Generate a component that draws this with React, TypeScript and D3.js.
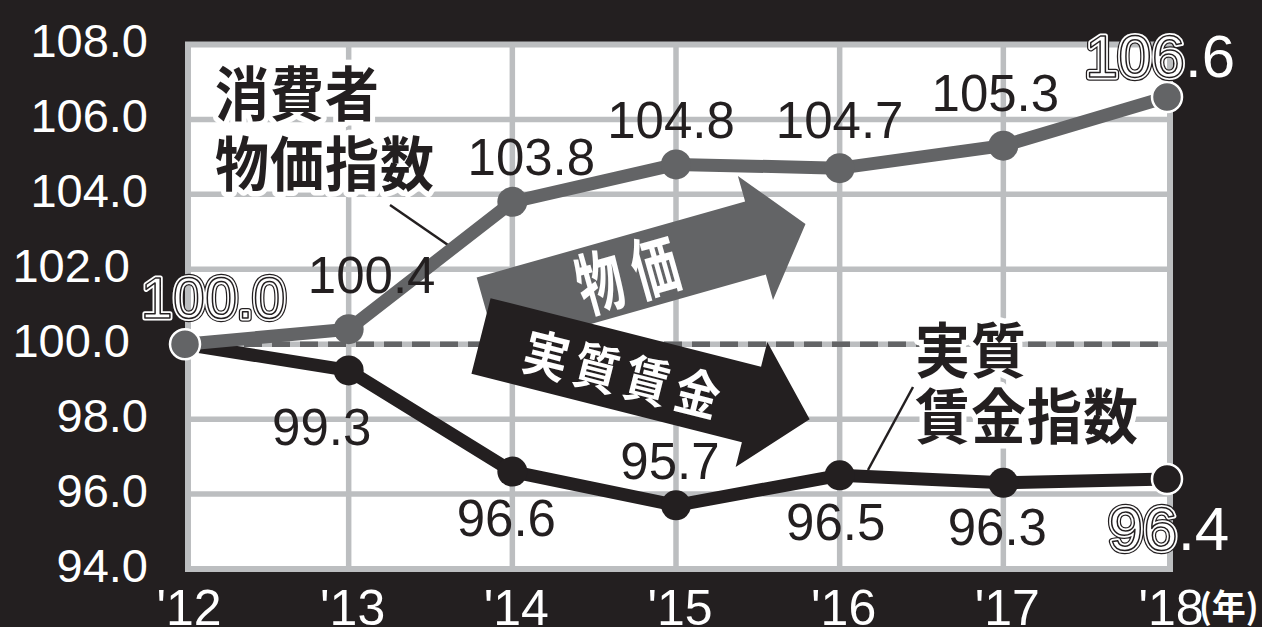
import React from 'react';
import * as d3 from 'd3';

// ---------- data ----------
const years = [2012, 2013, 2014, 2015, 2016, 2017, 2018];
const yearLabels = ["'12", "'13", "'14", "'15", "'16", "'17", "'18"];
const cpiValues = [100.0, 100.4, 103.8, 104.8, 104.7, 105.3, 106.6];
const wageValues = [100.0, 99.3, 96.6, 95.7, 96.5, 96.3, 96.4];
const yTicks = [94, 96, 98, 100, 102, 104, 106, 108];
const cpiTitle = ['消費者', '物価指数'];
const wageTitle = ['実質', '賃金指数'];
const cpiArrowText = '物価';
const wageArrowText = '実質賃金';
const unitLabel = '(年)';
const baseValue = 100;

// ---------- layout / style ----------
const W = 1262;
const H = 627;
const BG = '#231f20';
const GRAY = '#636466';
const GRID = '#bcbec0';
const NUM_FONT = '"Liberation Sans", Arial, Helvetica, sans-serif';
const JP_FONT = '"Noto Sans CJK JP", "Noto Sans CJK SC", sans-serif';

const x = d3.scaleLinear().domain([2012, 2018]).range([185, 1167]);
const y = d3.scaleLinear().domain([94, 108]).range([569, 44.5]);

// label offsets relative to the point [dx, dy]
const cpiLabelPos: number[][] = [[28, -26], [23, -36], [19, -27], [-5, -26], [0, -30], [-8, -35], [-7, -20]];
const wageLabelPos: (number[] | null)[] = [null, [-27, 75], [-6, 64], [-6, -26], [-4, 65], [-6, 62], [2, 71]];

const fmt = d3.format('.1f');

function OutlinedLabel({ px, py, text, size, split }: { px: number; py: number; text: string; size: number; split: number }) {
  const a = text.slice(0, split);
  const b = text.slice(split);
  const common = { x: px, y: py, textAnchor: 'middle' as const, fontSize: size, fontFamily: NUM_FONT };
  return (
    <g>
      <text {...common}>
        <tspan fill="none" stroke={BG} strokeWidth={7.5} strokeLinejoin="round">{a}</tspan>
        <tspan fill="none" stroke="none">{b}</tspan>
      </text>
      <text {...common}>
        <tspan fill="none" stroke="#fff" strokeWidth={5} strokeLinejoin="round">{a}</tspan>
        <tspan fill="none" stroke="none">{b}</tspan>
      </text>
      <text {...common}>
        <tspan fill="#fff" stroke={BG} strokeWidth={1.5} strokeLinejoin="round">{a}</tspan>
        <tspan fill="#fff" stroke="none">{b}</tspan>
      </text>
    </g>
  );
}

function Arrow({ sx, sy, angle, base, len, sw, hw, fill, text, textX, textY, fontSize, spacing, scaleY }: any) {
  const pts = [
    [0, -sw / 2], [base, -sw / 2], [base, -hw / 2], [len, 0], [base, hw / 2], [base, sw / 2], [0, sw / 2],
  ];
  return (
    <g transform={`translate(${sx},${sy}) rotate(${angle})`}>
      <polygon points={pts.map((p) => p.join(',')).join(' ')} fill={fill} />
      <text
        transform={`translate(${textX + spacing / 2},${textY}) scale(1,${scaleY})`}
        textAnchor="middle"
        fontSize={fontSize}
        fontFamily={JP_FONT}
        fontWeight={700}
        letterSpacing={spacing}
        fill="#fff"
      >
        {text}
      </text>
    </g>
  );
}

function SeriesTitle({ lines, px, baselines, size }: { lines: string[]; px: number; baselines: number[]; size: number }) {
  return (
    <g>
      {lines.map((l, i) => (
        <text
          key={i}
          transform={`translate(${px},${baselines[i]}) scale(1,1.1)`}
          fontSize={size}
          fontFamily={JP_FONT}
          fontWeight={700}
          letterSpacing={1}
          fill="#231f20"
          stroke="#fff"
          strokeWidth={10}
          strokeLinejoin="round"
          paintOrder="stroke"
        >
          {l}
        </text>
      ))}
    </g>
  );
}

export default function App() {
  const line = d3
    .line<number>()
    .x((_, i) => x(years[i]))
    .y((d) => y(d));

  const x0 = x(years[0]);
  const x1 = x(years[years.length - 1]);

  return (
    <svg
      width={W}
      height={H}
      viewBox={`0 0 ${W} ${H}`}
      style={{ position: 'fixed', left: 0, top: 0, display: 'block' }}
    >
      <rect x={0} y={0} width={W} height={H} fill={BG} />

      {/* plot area */}
      <rect x={x0 + 3} y={y(108)} width={x1 - x0} height={y(94) - y(108)} fill="#fff" stroke={GRID} strokeWidth={6} />
      {yTicks.slice(1, -1).map((t) => (
        <line key={'h' + t} x1={x0 + 3} x2={x1 + 3} y1={y(t)} y2={y(t)} stroke={GRID} strokeWidth={5.5} />
      ))}
      {years.slice(1, -1).map((yr) => (
        <line key={'v' + yr} x1={x(yr)} x2={x(yr)} y1={y(108)} y2={y(94)} stroke={GRID} strokeWidth={5.5} />
      ))}
      {/* base line 100 */}
      <line x1={x0 + 3} x2={x1 + 1} y1={y(baseValue)} y2={y(baseValue)} stroke={GRAY} strokeWidth={5.5} strokeDasharray="18 10" />

      {/* y tick labels */}
      {yTicks.map((t) => (
        <text
          key={'yt' + t}
          x={t === 100 || t === 102 ? 130 : 148}
          y={y(t) + 12.5}
          textAnchor="end"
          fontSize={47}
          fontFamily={NUM_FONT}
          fill="#fff"
        >
          {fmt(t)}
        </text>
      ))}

      {/* x tick labels */}
      {years.map((yr, i) => (
        <text key={'xt' + yr} x={x(yr) + 4} y={625} textAnchor="middle" fontSize={50} fontFamily={NUM_FONT} fill="#fff">
          {yearLabels[i]}
        </text>
      ))}
      <text x={1199} y={619} fontSize={34} fontFamily={JP_FONT} fontWeight={700} fill="#fff">
        {unitLabel}
      </text>

      {/* arrows */}
      <Arrow
        sx={487} sy={314} angle={-15.8} base={279} len={331} sw={76} hw={129} fill={GRAY}
        text={cpiArrowText} textX={146} textY={26} fontSize={46} spacing={11} scaleY={1.5}
      />
      <Arrow
        sx={481} sy={336} angle={14.2} base={279} len={339} sw={78} hw={129} fill={BG}
        text={wageArrowText} textX={146} textY={22} fontSize={45} spacing={7} scaleY={1.15}
      />

      {/* series titles */}
      <SeriesTitle lines={cpiTitle} px={215} baselines={[116, 186]} size={54} />
      <SeriesTitle lines={wageTitle} px={915} baselines={[373, 439]} size={55} />
      <line x1={390} y1={205} x2={448} y2={245} stroke={BG} strokeWidth={2.5} />
      <line x1={913} y1={387} x2={868} y2={470} stroke={BG} strokeWidth={2.5} />

      {/* wage series */}
      <path d={line(wageValues) || ''} fill="none" stroke={BG} strokeWidth={13} strokeLinejoin="round" />
      {wageValues.map((v, i) => (
        <circle
          key={'wc' + i}
          cx={x(years[i])}
          cy={y(v)}
          r={15}
          fill={BG}
          stroke={i === wageValues.length - 1 ? '#fff' : 'none'}
          strokeWidth={2.5}
        />
      ))}

      {/* cpi series */}
      <path d={line(cpiValues) || ''} fill="none" stroke={GRAY} strokeWidth={13} strokeLinejoin="round" />
      {cpiValues.map((v, i) => (
        <circle
          key={'cc' + i}
          cx={x(years[i])}
          cy={y(v)}
          r={15}
          fill={GRAY}
          stroke={i === 0 || i === cpiValues.length - 1 ? '#fff' : 'none'}
          strokeWidth={2.5}
        />
      ))}

      {/* value labels */}
      {cpiValues.map((v, i) => {
        const [dx, dy] = cpiLabelPos[i];
        const px = x(years[i]) + dx;
        const py = y(v) + dy;
        const s = fmt(v);
        if (i === 0) return <OutlinedLabel key={'cl' + i} px={px} py={py} text={s} size={58} split={s.length} />;
        if (i === cpiValues.length - 1) return <OutlinedLabel key={'cl' + i} px={px} py={py} text={s} size={60} split={3} />;
        return (
          <text key={'cl' + i} x={px} y={py} textAnchor="middle" fontSize={51} fontFamily={NUM_FONT} fill={BG}>
            {s}
          </text>
        );
      })}
      {wageValues.map((v, i) => {
        const pos = wageLabelPos[i];
        if (!pos) return null;
        const px = x(years[i]) + pos[0];
        const py = y(v) + pos[1];
        const s = fmt(v);
        if (i === wageValues.length - 1) return <OutlinedLabel key={'wl' + i} px={px} py={py} text={s} size={62} split={2} />;
        return (
          <text key={'wl' + i} x={px} y={py} textAnchor="middle" fontSize={51} fontFamily={NUM_FONT} fill={BG}>
            {s}
          </text>
        );
      })}
    </svg>
  );
}
